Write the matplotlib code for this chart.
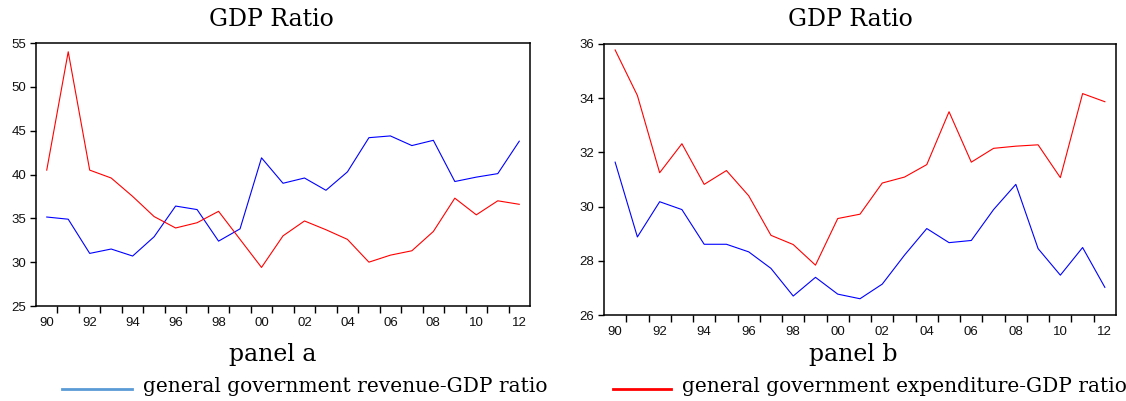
import matplotlib
matplotlib.use("Agg")
import matplotlib.pyplot as plt
from matplotlib.lines import Line2D
from matplotlib.ticker import FixedLocator, NullFormatter

# Years 1990-2012 (two-digit labels)
years = list(range(1990, 2013))
year_labels = [f"{y % 100:02d}" for y in years]

# Panel a: general government ratios to GDP (%)
revenue_a = [35.15, 34.9, 31.0, 31.5, 30.7, 32.9, 36.4, 36.0, 32.4, 33.8, 41.9, 39.0,
             39.6, 38.2, 40.3, 44.2, 44.4, 43.3, 43.9, 39.2, 39.7, 40.1, 43.8]
expenditure_a = [40.5, 54.0, 40.5, 39.6, 37.5, 35.2, 33.9, 34.5, 35.8, 32.6, 29.4, 33.0,
                 34.7, 33.7, 32.6, 30.0, 30.8, 31.3, 33.5, 37.3, 35.4, 37.0, 36.6]

# Panel b
revenue_b = [31.64, 28.88, 30.18, 29.89, 28.61, 28.61, 28.33, 27.72, 26.70, 27.39, 26.77, 26.60,
             27.14, 28.21, 29.19, 28.67, 28.75, 29.89, 30.82, 28.45, 27.47, 28.49, 27.02]
expenditure_b = [35.78, 34.10, 31.25, 32.32, 30.82, 31.33, 30.40, 28.94, 28.60, 27.84, 29.56, 29.72,
                 30.87, 31.09, 31.55, 33.50, 31.64, 32.15, 32.23, 32.28, 31.07, 34.17, 33.87]

yticks_a = [25, 30, 35, 40, 45, 50, 55]
yticks_b = [26, 28, 30, 32, 34, 36]

title_text = "GDP Ratio"
panel_names = ["panel a", "panel b"]
legend_names = ["general government revenue-GDP ratio",
                "general government expenditure-GDP ratio"]

serif = ["DejaVu Serif"]
W, H = 1126, 401
fig = plt.figure(figsize=(W / 100, H / 100), dpi=100)


def px_axes(left, top, right, bottom):
    return fig.add_axes([left / W, 1 - bottom / H, (right - left) / W, (bottom - top) / H])


def style_axes(ax, yticks):
    n = len(years)
    x = list(range(n))
    ax.set_xlim(-0.5, n - 0.5)
    ax.set_ylim(yticks[0], yticks[-1])
    ax.set_yticks(yticks)
    ax.set_yticklabels([str(v) for v in yticks])
    major = [i for i in x if years[i] % 2 == 0]
    ax.set_xticks(major)
    ax.set_xticklabels([year_labels[i] for i in major])
    ax.xaxis.set_minor_locator(FixedLocator([i + 0.5 for i in range(n - 1)]))
    ax.xaxis.set_minor_formatter(NullFormatter())
    ax.tick_params(axis="x", which="major", length=0, pad=8, labelsize=9.5,
                   labelcolor="#111111")
    ax.tick_params(axis="x", which="minor", length=5, width=1.0, direction="out")
    ax.tick_params(axis="y", which="major", length=4, width=1.0, direction="out",
                   pad=3, labelsize=9.5, labelcolor="#111111")
    for s in ax.spines.values():
        s.set_linewidth(1.1)
        s.set_color("black")
    for lab in ax.get_xticklabels() + ax.get_yticklabels():
        lab.set_family("Liberation Sans")
    return x


ax_a = px_axes(36, 43, 530, 306)
xa = style_axes(ax_a, yticks_a)
ax_a.plot(xa, revenue_a, color="#0000ff", lw=0.8)
ax_a.plot(xa, expenditure_a, color="#ff0000", lw=0.8)

ax_b = px_axes(604, 44, 1116, 315)
xb = style_axes(ax_b, yticks_b)
ax_b.plot(xb, expenditure_b, color="#ff0000", lw=0.8)
ax_b.plot(xb, revenue_b, color="#0000ff", lw=0.8)

# Titles above each panel
fig.text(271 / W, 1 - 20 / H, title_text, ha="center", va="center", fontsize=17, family=serif)
fig.text(850 / W, 1 - 20 / H, title_text, ha="center", va="center", fontsize=17, family=serif)

# Panel captions
fig.text(273 / W, 1 - 355 / H, panel_names[0], ha="center", va="center", fontsize=17, family=serif)
fig.text(853 / W, 1 - 355 / H, panel_names[1], ha="center", va="center", fontsize=17, family=serif)

# Legend keys drawn in figure space
fig.add_artist(Line2D([62 / W, 132 / W], [1 - 389 / H, 1 - 389 / H],
                      color="#5b9bd5", lw=2, transform=fig.transFigure))
fig.text(143 / W, 1 - 386 / H, legend_names[0], ha="left", va="center", fontsize=14.5, family=serif)
fig.add_artist(Line2D([613 / W, 671 / W], [1 - 389 / H, 1 - 389 / H],
                      color="#ff0000", lw=2, transform=fig.transFigure))
fig.text(682 / W, 1 - 386 / H, legend_names[1], ha="left", va="center", fontsize=14.5, family=serif)

fig.savefig("out.png", dpi=100)
